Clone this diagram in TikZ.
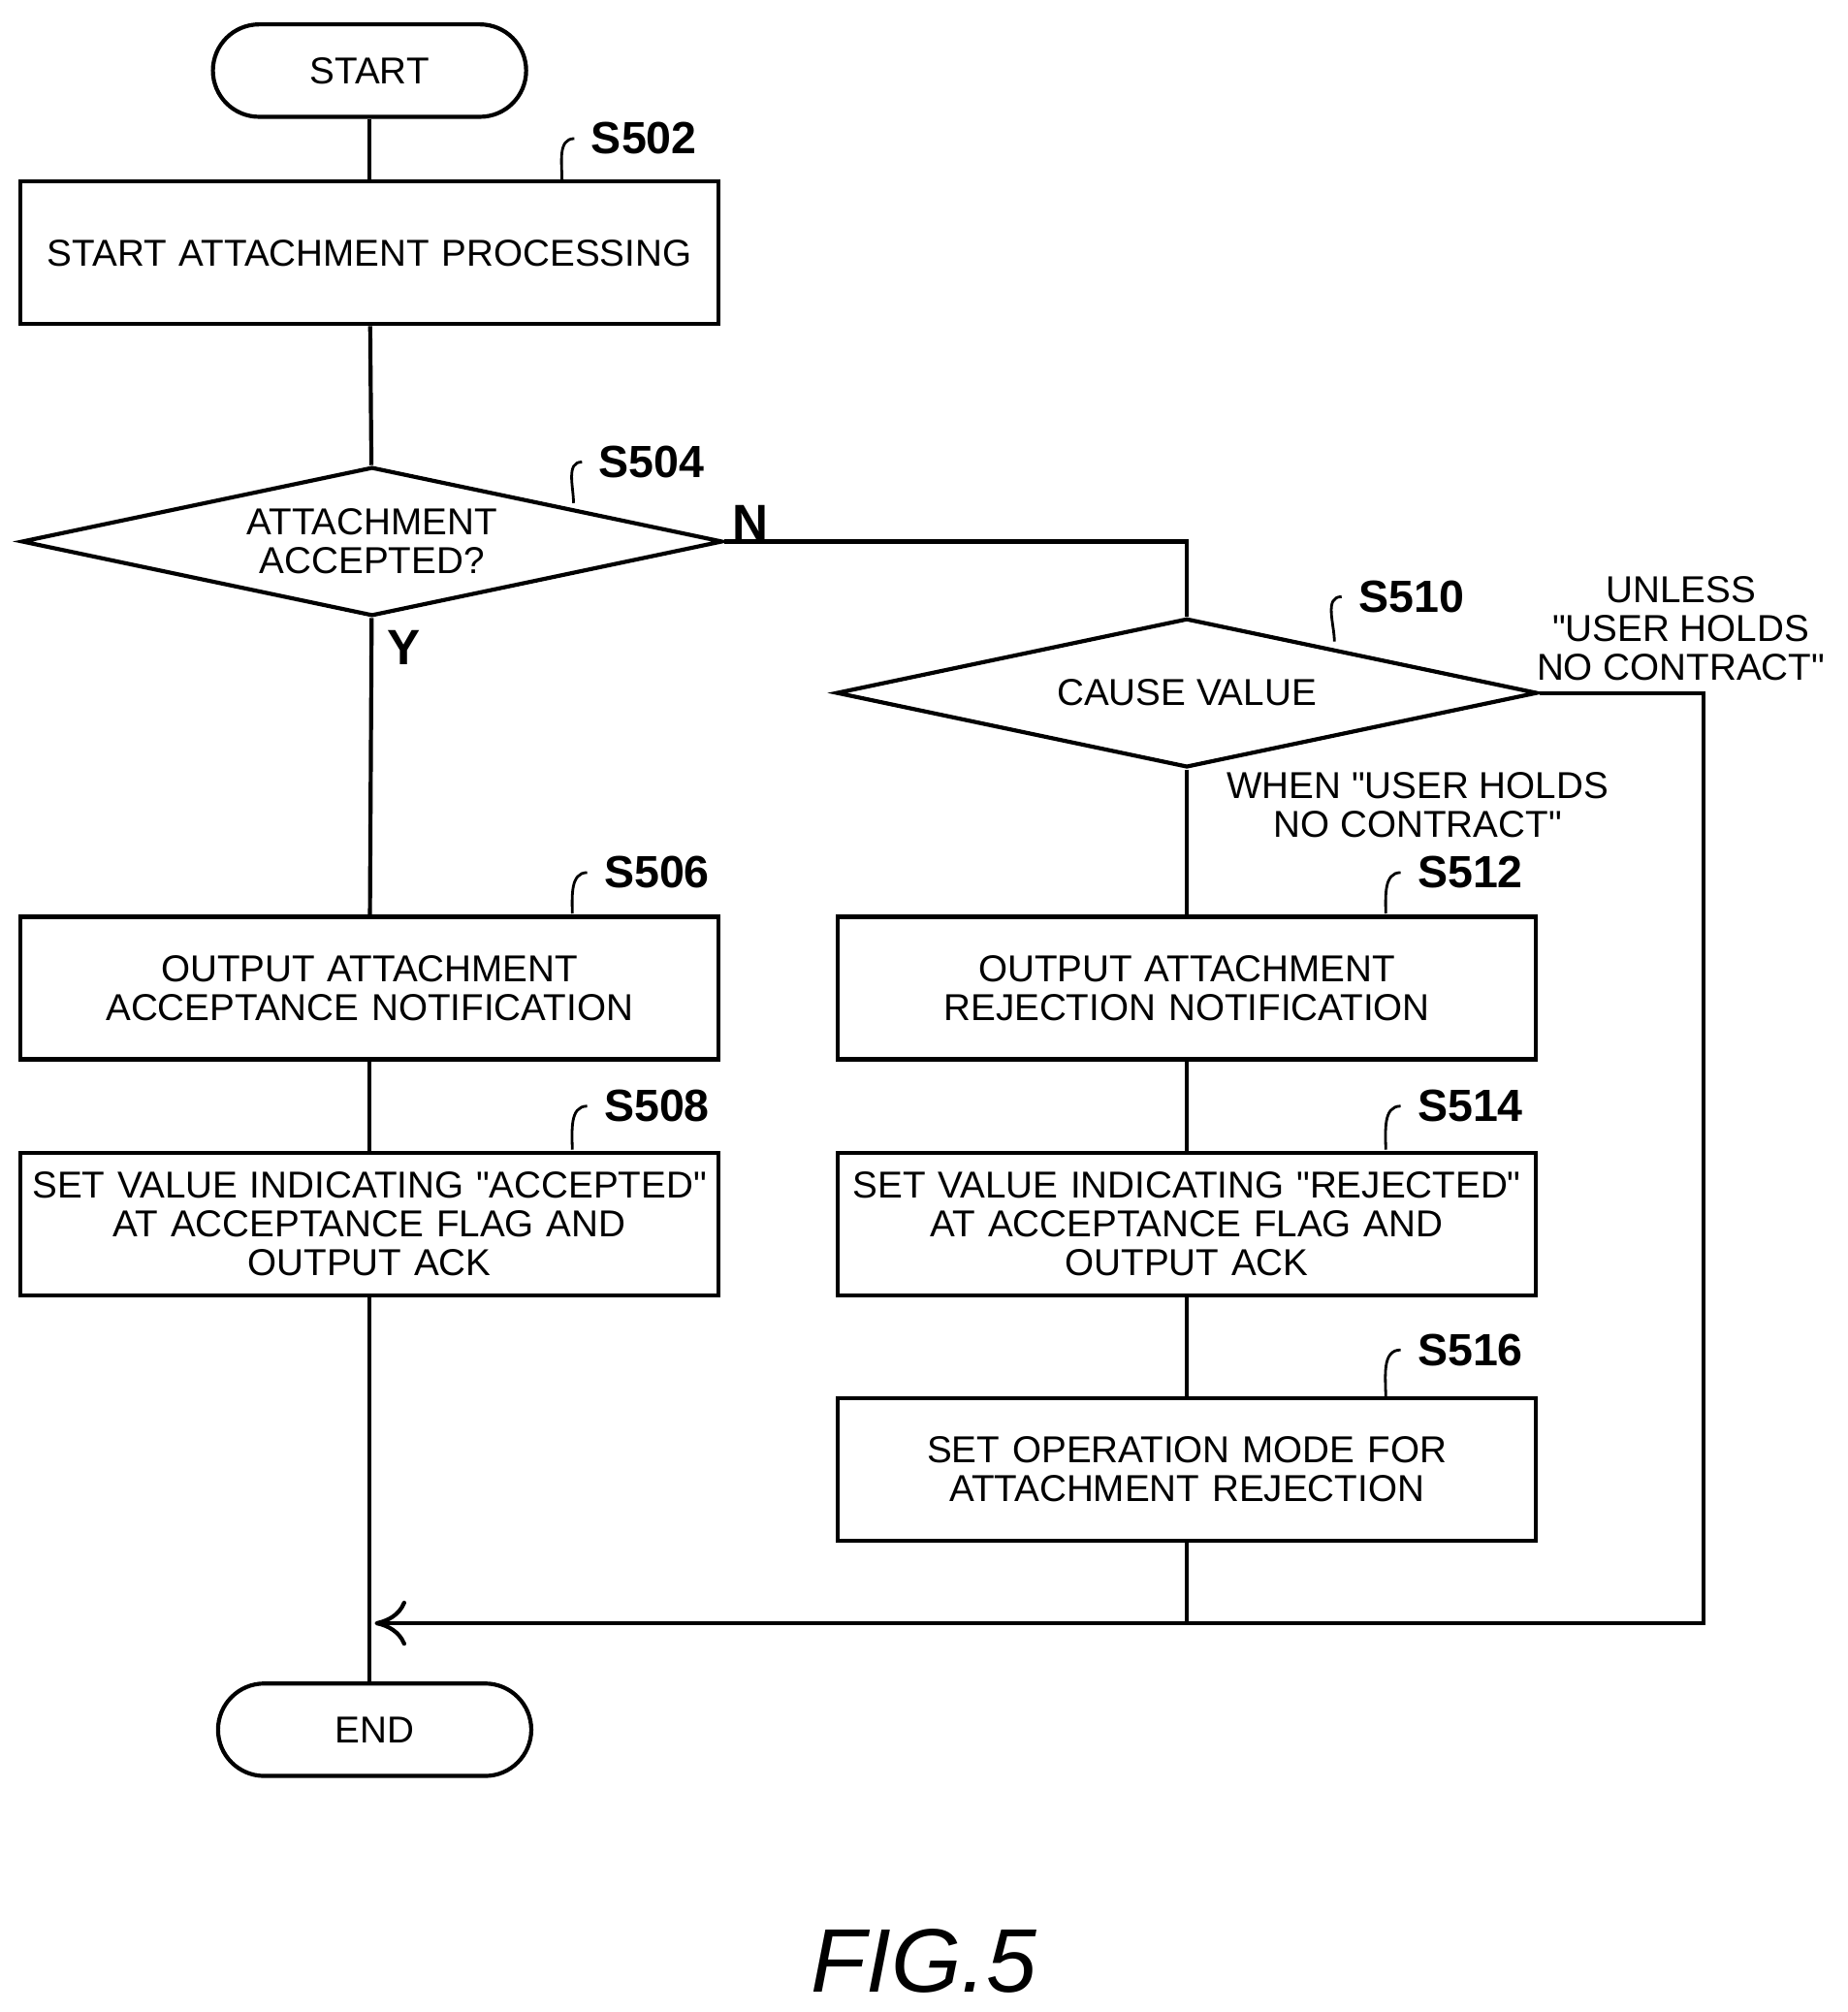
\documentclass[tikz,border=0pt]{standalone}
\usepackage{fontspec}
\setmainfont{Liberation Sans}
\usetikzlibrary{shapes.geometric,arrows.meta}
\newcommand{\qq}{\textquotedbl}
\begin{document}
\begin{tikzpicture}[x=0.01cm,y=-0.01cm,line width=0.9pt,
  every node/.style={font=\fontsize{8.3}{8.6}\selectfont,align=center},
  proc/.style={draw,rectangle,minimum width=5.44cm,minimum height=1.11cm,text width=5.3cm,inner sep=0pt},
  term/.style={draw,rectangle,rounded corners=0.36cm,minimum width=2.44cm,minimum height=0.72cm},
  decide/.style={draw,diamond,minimum width=5.46cm,minimum height=1.16cm,inner sep=0pt},
  steplbl/.style={font=\bfseries\fontsize{10}{11}\selectfont}]
\useasboundingbox (0,0) rectangle (1440,1568);
%terminals
\node [term] (start) at (288,55) {START};
\node [term] (end) at (292,1348) {END};
%left column
\node [proc] (s502) at (288,197) {START ATTACHMENT PROCESSING};
\node [decide,label=center:{ATTACHMENT\\ACCEPTED?}] (s504) at (290,422) {};
\node [proc] (s506) at (288,770) {OUTPUT ATTACHMENT\\ACCEPTANCE NOTIFICATION};
\node [proc] (s508) at (288,954) {SET VALUE INDICATING \qq ACCEPTED\qq\\AT ACCEPTANCE FLAG AND\\OUTPUT ACK};
%right column
\node [decide,label=center:{CAUSE VALUE}] (s510) at (925,540) {};
\node [proc] (s512) at (925,770) {OUTPUT ATTACHMENT\\REJECTION NOTIFICATION};
\node [proc] (s514) at (925,954) {SET VALUE INDICATING \qq REJECTED\qq\\AT ACCEPTANCE FLAG AND\\OUTPUT ACK};
\node [proc] (s516) at (925,1145) {SET OPERATION MODE FOR\\ATTACHMENT REJECTION};
%step labels
\node [steplbl] (l502) at (502,108) {S502};
\node [steplbl] (l504) at (508,360) {S504};
\node [steplbl] (l506) at (512,680) {S506};
\node [steplbl] (l508) at (512,862) {S508};
\node [steplbl] (l510) at (1100,465) {S510};
\node [steplbl] (l512) at (1146,680) {S512};
\node [steplbl] (l514) at (1146,862) {S514};
\node [steplbl] (l516) at (1146,1052) {S516};
\draw [line width=0.6pt] (438,140) to[out=90,in=180] (l502.west);
\draw [line width=0.6pt] (447,392) to[out=90,in=180] (l504.west);
\draw [line width=0.6pt] (446,712) to[out=90,in=180] (l506.west);
\draw [line width=0.6pt] (446,896) to[out=90,in=180] (l508.west);
\draw [line width=0.6pt] (1040,500) to[out=90,in=180] (l510.west);
\draw [line width=0.6pt] (1080,712) to[out=90,in=180] (l512.west);
\draw [line width=0.6pt] (1080,896) to[out=90,in=180] (l514.west);
\draw [line width=0.6pt] (1080,1088) to[out=90,in=180] (l516.west);
%branch texts
\node (n) at (585,407) {\fontsize{11}{11}\selectfont\bfseries N};
\node (y) at (315,505) {\fontsize{11}{11}\selectfont\bfseries Y};
\node (unless) at (1310,490) {UNLESS\\\qq USER HOLDS\\NO CONTRACT\qq};
\node (when) at (1105,627) {WHEN \qq USER HOLDS\\NO CONTRACT\qq};
%connectors
\coordinate (rc) at (1328,1265);
\coordinate (mrg) at (292,1265);
\draw (start) -- (s502);
\draw (s502) -- (s504);
\draw (s504) -- (s506);
\draw (s506) -- (s508);
\draw (s508.south) -- (s508.south |- end.north);
\draw (s504.east) -| (s510.north);
\draw (s510) -- (s512);
\draw (s512) -- (s514);
\draw (s514) -- (s516);
\draw (s516.south) -- (s516.south |- mrg);
\draw [-{To[length=7pt,width=10pt]}] (s510.east) -| (rc) -- (mrg);
%caption
\node (fig) at (720,1528) {\fontsize{20}{20}\selectfont\itshape FIG.5};
\end{tikzpicture}
\end{document}
